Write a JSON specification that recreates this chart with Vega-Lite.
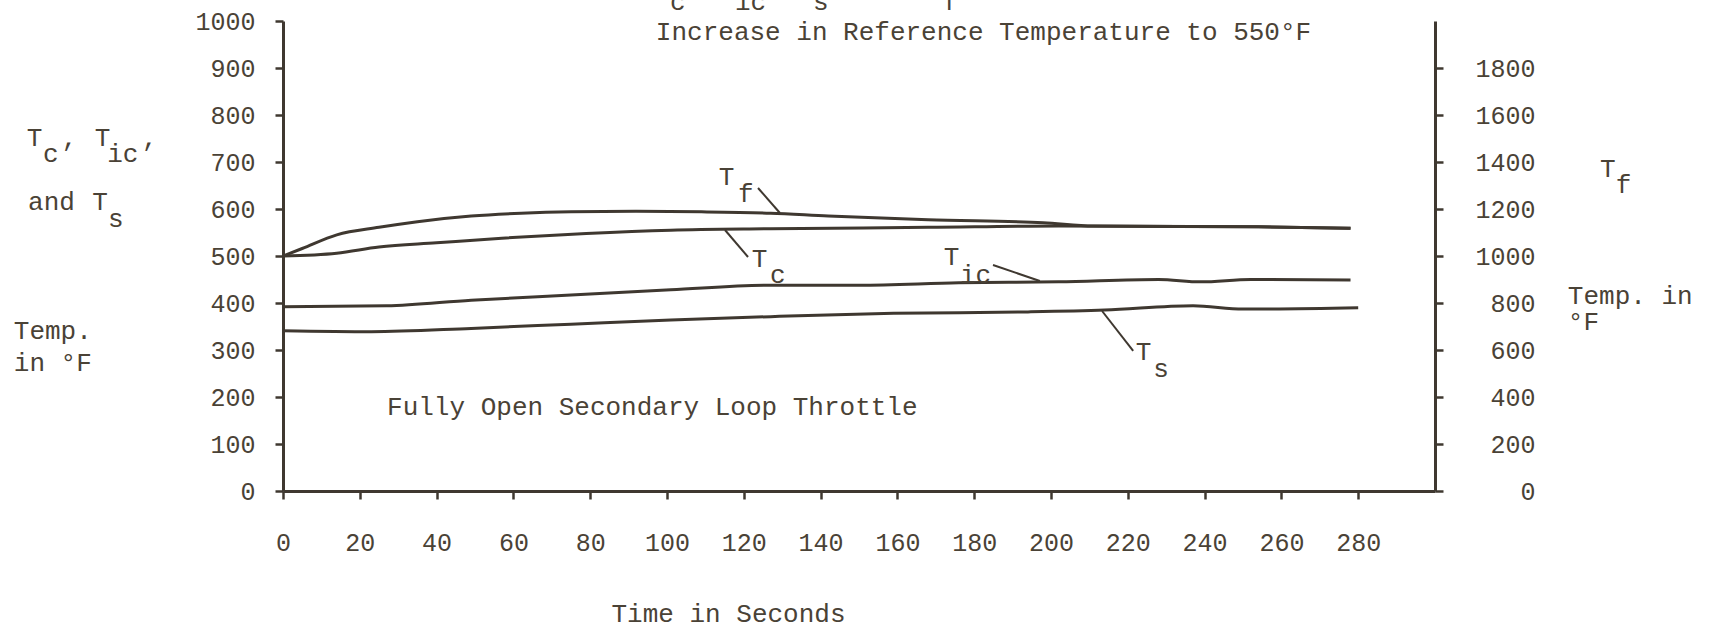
{
  "$schema": "https://vega.github.io/schema/vega-lite/v6.json",
  "width": 1152,
  "height": 470,
  "autosize": {"type": "none"},
  "padding": {"left": 283, "top": 21, "right": 274, "bottom": 139},
  "background": "white",
  "config": {
    "view": {"stroke": null},
    "axis": {
      "grid": false,
      "domainColor": "#3f3830",
      "domainWidth": 3,
      "tickColor": "#3f3830",
      "tickWidth": 2.5,
      "tickSize": 8,
      "labelFont": "Liberation Mono",
      "labelFontSize": 25,
      "labelColor": "#4a4236",
      "titleFont": "Liberation Mono",
      "titleFontSize": 26,
      "titleColor": "#4a4236",
      "titleFontWeight": "normal",
      "labelFlush": false,
      "labelOverlap": false
    }
  },
  "datasets": {
    "left": [
      {"series": "Tc", "t": 0, "v": 500}, {"series": "Tc", "t": 14, "v": 506}, {"series": "Tc", "t": 25, "v": 519},
      {"series": "Tc", "t": 40, "v": 528}, {"series": "Tc", "t": 57, "v": 538}, {"series": "Tc", "t": 79, "v": 548},
      {"series": "Tc", "t": 101, "v": 555}, {"series": "Tc", "t": 127, "v": 558}, {"series": "Tc", "t": 168, "v": 561},
      {"series": "Tc", "t": 202, "v": 564}, {"series": "Tc", "t": 254, "v": 562}, {"series": "Tc", "t": 278, "v": 559},
      {"series": "Tic", "t": 0, "v": 392}, {"series": "Tic", "t": 27, "v": 394}, {"series": "Tic", "t": 49, "v": 406},
      {"series": "Tic", "t": 75, "v": 417}, {"series": "Tic", "t": 101, "v": 428}, {"series": "Tic", "t": 127, "v": 438},
      {"series": "Tic", "t": 150, "v": 438}, {"series": "Tic", "t": 176, "v": 443}, {"series": "Tic", "t": 202, "v": 445},
      {"series": "Tic", "t": 228, "v": 450}, {"series": "Tic", "t": 239, "v": 445}, {"series": "Tic", "t": 252, "v": 450},
      {"series": "Tic", "t": 278, "v": 449},
      {"series": "Ts", "t": 0, "v": 341}, {"series": "Ts", "t": 23, "v": 339}, {"series": "Ts", "t": 49, "v": 346},
      {"series": "Ts", "t": 75, "v": 355}, {"series": "Ts", "t": 101, "v": 364}, {"series": "Ts", "t": 127, "v": 371},
      {"series": "Ts", "t": 159, "v": 378}, {"series": "Ts", "t": 194, "v": 381}, {"series": "Ts", "t": 214, "v": 385},
      {"series": "Ts", "t": 237, "v": 394}, {"series": "Ts", "t": 250, "v": 387}, {"series": "Ts", "t": 280, "v": 390}
    ],
    "tf": [
      {"t": 0, "v": 1000}, {"t": 5, "v": 1032}, {"t": 14, "v": 1090}, {"t": 25, "v": 1122}, {"t": 35, "v": 1146},
      {"t": 49, "v": 1170}, {"t": 62, "v": 1182}, {"t": 75, "v": 1188}, {"t": 92, "v": 1190}, {"t": 109, "v": 1188},
      {"t": 127, "v": 1182}, {"t": 142, "v": 1170}, {"t": 168, "v": 1154}, {"t": 198, "v": 1142}, {"t": 211, "v": 1128},
      {"t": 254, "v": 1124}, {"t": 278, "v": 1118}
    ],
    "leaders": [
      {"t": 123.7, "v": 644.7, "t2": 129.4, "v2": 591.5},
      {"t": 115.1, "v": 555.3, "t2": 121.1, "v2": 497.9},
      {"t": 184.9, "v": 480.9, "t2": 197.1, "v2": 446.8},
      {"t": 213.3, "v": 383, "t2": 221.4, "v2": 297.9}
    ],
    "labels": [
      {"t": -66.7, "v": 733, "label": "T"},
      {"t": -62.5, "v": 700.6, "label": "c"},
      {"t": -57.6, "v": 733, "label": ","},
      {"t": -49.0, "v": 733, "label": "T"},
      {"t": -45.8, "v": 700.6, "label": "ic"},
      {"t": -36.7, "v": 733, "label": ","},
      {"t": -66.4, "v": 598, "label": "and"},
      {"t": -49.7, "v": 598, "label": "T"},
      {"t": -45.6, "v": 562.3, "label": "s"},
      {"t": -70.1, "v": 323.4, "label": "Temp."},
      {"t": -70.1, "v": 255.3, "label": "in °F"},
      {"t": 343.0, "v": 668.7, "label": "T"},
      {"t": 347.1, "v": 633.4, "label": "f"},
      {"t": 334.6, "v": 397.9, "label": "Temp. in"},
      {"t": 334.6, "v": 343.5, "label": "°F"},
      {"t": 97.1, "v": 959.6, "label": "Increase in Reference Temperature to 550°F"},
      {"t": 27.1, "v": 161.7, "label": "Fully Open Secondary Loop Throttle"},
      {"t": 113.5, "v": 651, "label": "T"},
      {"t": 118.5, "v": 615, "label": "f"},
      {"t": 122.1, "v": 476.6, "label": "T"},
      {"t": 126.8, "v": 442.6, "label": "c"},
      {"t": 172.1, "v": 480.9, "label": "T"},
      {"t": 176.3, "v": 442.6, "label": "ic"},
      {"t": 222.1, "v": 278.7, "label": "T"},
      {"t": 226.6, "v": 242.6, "label": "s"},
      {"t": 100.8, "v": 1023, "label": "c"},
      {"t": 117.7, "v": 1023, "label": "ic"},
      {"t": 138.0, "v": 1023, "label": "s"},
      {"t": 171.9, "v": 1023, "label": "f"}
    ]
  },
  "encoding": {
    "x": {
      "field": "t", "type": "quantitative",
      "scale": {"domain": [0, 300], "nice": false},
      "axis": {
        "values": [0, 20, 40, 60, 80, 100, 120, 140, 160, 180, 200, 220, 240, 260, 280],
        "format": "d",
        "title": "Time in Seconds",
        "labelPadding": 31,
        "titleX": 445,
        "titleY": 130,
        "titleAlign": "center",
        "titleBaseline": "alphabetic"
      }
    }
  },
  "layer": [
    {
      "encoding": {
        "y": {
          "field": "v", "type": "quantitative",
          "scale": {"domain": [0, 1000], "nice": false},
          "axis": {
            "values": [0, 100, 200, 300, 400, 500, 600, 700, 800, 900, 1000],
            "format": "d",
            "title": null,
            "labelPadding": 20
          }
        }
      },
      "layer": [
        {
          "data": {"name": "left"},
          "mark": {"type": "line", "color": "#3f3830", "strokeWidth": 3, "interpolate": "monotone"},
          "encoding": {
            "detail": {"field": "series", "type": "nominal"}
          }
        },
        {
          "data": {"name": "leaders"},
          "mark": {"type": "rule", "color": "#3f3830", "strokeWidth": 2},
          "encoding": {
            "x2": {"field": "t2"},
            "y2": {"field": "v2"}
          }
        },
        {
          "data": {"name": "labels"},
          "mark": {"type": "text", "align": "left", "baseline": "alphabetic", "font": "Liberation Mono", "fontSize": 26, "color": "#4a4236"},
          "encoding": {
            "text": {"field": "label", "type": "nominal"}
          }
        }
      ]
    },
    {
      "data": {"name": "tf"},
      "mark": {"type": "line", "color": "#3f3830", "strokeWidth": 3, "interpolate": "monotone"},
      "encoding": {
        "y": {
          "field": "v", "type": "quantitative",
          "scale": {"domain": [0, 2000], "nice": false},
          "axis": {
            "orient": "right",
            "values": [0, 200, 400, 600, 800, 1000, 1200, 1400, 1600, 1800],
            "format": "d",
            "title": null,
            "labelAlign": "right",
            "labelPadding": 92
          }
        }
      }
    }
  ],
  "resolve": {"scale": {"y": "independent"}, "axis": {"y": "independent"}}
}
